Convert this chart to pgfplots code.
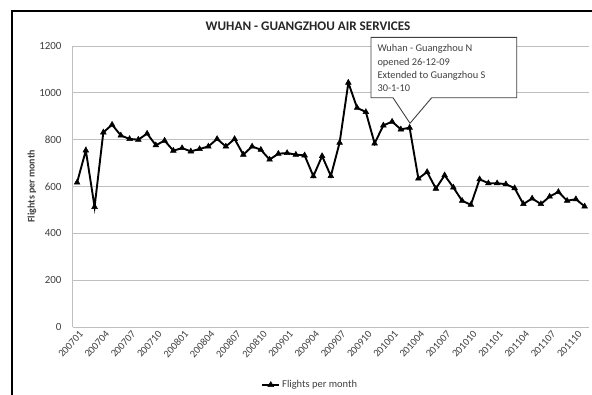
\documentclass[border=0pt]{standalone}
\usepackage{fontspec}
\setmainfont{Carlito}
\usepackage{pgfplots}
\pgfplotsset{compat=1.18}
\definecolor{gridgray}{HTML}{BFBFBF}
\definecolor{txtgray}{HTML}{404040}
\begin{document}
\begin{tikzpicture}[x=1bp,y=1bp]
\useasboundingbox (0,0) rectangle (592,394);
\fill[white] (0,0) rectangle (592,394);
\draw[line width=1.6bp] (12,-5) -- (12,383) -- (600,383);
\node[anchor=base, font=\fontsize{13.2}{15}\selectfont\bfseries, text=black!85] at (308,363.3) {WUHAN - GUANGZHOU AIR SERVICES};
\begin{axis}[
  at={(72.7bp,67bp)}, anchor=south west,
  scale only axis, width=516.3bp, height=281bp,
  xmin=-0.5, xmax=58.5, ymin=0, ymax=1200,
  ytick={0,200,...,1200},
  ymajorgrids, grid style={gridgray, line width=0.7bp},
  axis x line*=bottom, axis y line*=left,
  axis line style={gridgray, line width=0.7bp, -},
  major tick length=0,
  /pgf/number format/assume math mode=true,
  /pgf/number format/1000 sep={},
  yticklabel style={font=\fontsize{11}{12}\selectfont, text=txtgray, inner sep=0pt, xshift=-11bp},
  xtick={0,3,...,57},
  xticklabels={200701,200704,200707,200710,200801,200804,200807,200810,200901,200904,200907,200910,201001,201004,201007,201010,201101,201104,201107,201110},
  xticklabel style={font=\fontsize{10.4}{11}\selectfont, text=txtgray, rotate=48, anchor=north east, inner sep=0pt, xshift=-1bp, yshift=-3bp},
  ylabel={Flights per month},
  ylabel style={at={(axis description cs:-0.079,0.5)}, anchor=center, rotate=0, font=\fontsize{10}{11}\selectfont\bfseries, text=txtgray},
  legend style={at={(0.46,-0.206)}, anchor=center, draw=none, fill=none, font=\fontsize{10.5}{11}\selectfont, text=txtgray, inner sep=0pt},
  legend cell align=left,
  clip=false,
]
\addplot[black, line width=1.9bp, mark=triangle*, mark size=3.3bp, mark options={solid, fill=black, line width=0.5bp}] coordinates {
(0,617) (1,754) (2,513) (3,831) (4,864) (5,818) (6,803) (7,800) (8,826) (9,776)
(10,796) (11,753) (12,764) (13,750) (14,760) (15,771) (16,803) (17,771) (18,803) (19,736)
(20,771) (21,757) (22,715) (23,740) (24,743) (25,736) (26,733) (27,644) (28,730) (29,645)
(30,787) (31,1043) (32,936) (33,918) (34,784) (35,861) (36,877) (37,844) (38,851) (39,634)
(40,662) (41,591) (42,648) (43,596) (44,539) (45,522) (46,631) (47,614) (48,614) (49,610)
(50,593) (51,525) (52,549) (53,525) (54,557) (55,577) (56,539) (57,546) (58,515)
};
\addlegendentry{Flights per month}
\end{axis}
\draw[txtgray, line width=0.9bp, fill=white] (371,296.3) -- (393,296.3) -- (410,270.7) -- (431.7,296.3) -- (516.7,296.3) -- (516.7,356.7) -- (371,356.7) -- cycle;
\node[anchor=base west, align=left, inner sep=0pt, font=\fontsize{10.4}{13.3}\selectfont, text=txtgray] at (377.3,302.3) {Wuhan - Guangzhou N\\opened 26-12-09\\Extended to Guangzhou S\\30-1-10};
\end{tikzpicture}
\end{document}
